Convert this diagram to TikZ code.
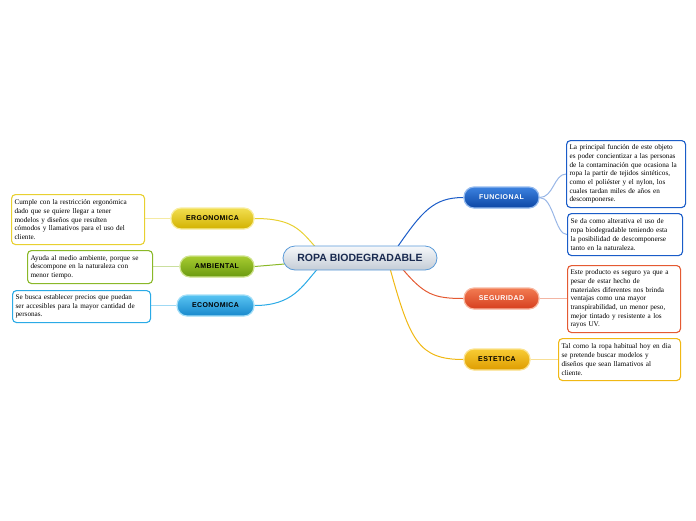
\documentclass[tikz,border=0pt]{standalone}
\usepackage{fontspec}
\setmainfont{Liberation Serif}
\newfontfamily\lblfont[LetterSpace=6]{Liberation Sans}
\newfontfamily\ctrfont{Liberation Sans}
\usetikzlibrary{backgrounds,calc}
\definecolor{ergoA}{HTML}{F2DE50}\definecolor{ergoB}{HTML}{D2B200}\definecolor{ergoL}{HTML}{E8D030}
\definecolor{ambA}{HTML}{A8CC30}\definecolor{ambB}{HTML}{6A9A10}\definecolor{ambL}{HTML}{8AB828}
\definecolor{ecoA}{HTML}{58C4F2}\definecolor{ecoB}{HTML}{1888CC}\definecolor{ecoL}{HTML}{2AAAE6}
\definecolor{funA}{HTML}{3C82E0}\definecolor{funB}{HTML}{0C46A4}\definecolor{funL}{HTML}{1A5CC8}
\definecolor{segA}{HTML}{F27C52}\definecolor{segB}{HTML}{D63E1E}\definecolor{segL}{HTML}{E45A32}
\definecolor{estA}{HTML}{F8CC34}\definecolor{estB}{HTML}{DE9C00}\definecolor{estL}{HTML}{F0B814}
\definecolor{ctrA}{HTML}{F6F8FA}\definecolor{ctrB}{HTML}{C4CCD6}\definecolor{ctrL}{HTML}{5A9AD8}
\definecolor{ctrT}{HTML}{1A2A50}
\tikzset{
  branch/.style 2 args={rounded corners=10pt, minimum height=21pt, inner sep=0pt,
    top color=#1, bottom color=#2, draw=#1!55!white, line width=1.2pt,
    font=\lblfont\bfseries\fontsize{7}{8}\selectfont},
  tbox/.style={draw=#1, line width=1.1pt, rounded corners=4pt, fill=white, align=left,
    inner sep=3pt, anchor=north west, font=\fontsize{7.2}{8.7}\selectfont},
  conn/.style={draw=#1, line width=1pt},
  lconn/.style={draw=#1!45!white, line width=1pt}
}
\begin{document}
\begin{tikzpicture}[x=1pt,y=-1pt]
\useasboundingbox (0,0) rectangle (696,520);

% center
\node[rounded corners=12pt, minimum width=154pt, minimum height=24pt, inner sep=0pt,
  top color=ctrA, bottom color=ctrB, draw=ctrL, line width=0.8pt,
  font=\ctrfont\bfseries\fontsize{10.5}{11}\selectfont, text=ctrT] (c) at (360,258) {ROPA BIODEGRADABLE};

% branches
\node[branch={ergoA}{ergoB}, minimum width=83pt, text=black] (ergo) at (212.5,218.5) {ERGONOMICA};
\node[branch={ambA}{ambB}, minimum width=74pt, text=black] (amb) at (217,266.5) {AMBIENTAL};
\node[branch={ecoA}{ecoB}, minimum width=77pt, text=black] (eco) at (215.5,305.5) {ECONOMICA};
\node[branch={funA}{funB}, minimum width=75pt, text=white] (fun) at (501.5,197.5) {FUNCIONAL};
\node[branch={segA}{segB}, minimum width=75pt, text=white] (seg) at (501.5,298.5) {SEGURIDAD};
\node[branch={estA}{estB}, minimum width=66pt, text=black] (est) at (497,359.5) {ESTETICA};

% text boxes
\node[tbox=ergoL, text width=127pt, minimum height=50pt] (ergoT) at (11,194)
 {Cumple con la restricción ergonómica\\dado que se quiere llegar a tener\\modelos y diseños que resulten\\cómodos y llamativos para el uso del\\cliente.};
\node[tbox=ambL, text width=119pt, minimum height=33pt] (ambT) at (27,250)
 {Ayuda al medio ambiente, porque se\\descompone en la naturaleza con\\menor tiempo.};
\node[tbox=ecoL, text width=132pt, minimum height=32pt] (ecoT) at (12,290)
 {Se busca establecer precios que puedan\\ser accesibles para la mayor cantidad de\\personas.};
\node[tbox=funL, text width=113pt, minimum height=67pt] (funT1) at (566,140)
 {La principal función de este objeto\\es poder concientizar a las personas\\de la contaminación que ocasiona la\\ropa la partir de tejidos sintéticos,\\como el poliéster y el nylon, los\\cuales tardan miles de años en\\descomponerse.};
\node[tbox=funL, text width=109pt, minimum height=42pt] (funT2) at (567,213)
 {Se da como alterativa el uso de\\ropa biodegradable teniendo esta\\la posibilidad de descomponerse\\tanto en la naturaleza.};
\node[tbox=segL, text width=107pt, minimum height=67pt] (segT) at (567,265)
 {Este producto es seguro ya que a\\pesar de estar hecho de\\materiales diferentes nos brinda\\ventajas como una mayor\\transpirabilidad, un menor peso,\\mejor tintado y resistente a los\\rayos UV.};
\node[tbox=estL, text width=116pt, minimum height=42pt] (estT) at (558,338)
 {Tal como la ropa habitual hoy en dia\\se pretende buscar modelos y\\diseños que sean llamativos al\\cliente.};

\begin{pgfonlayer}{background}
% center to branches
\draw[conn=ergoL] (ergo.east) .. controls ($(ergo.east)+(38,0)$) and ($(c.north)+(-60,-16)$) .. ($(c.north)+(-44,2)$);
\draw[conn=ambL] (amb.east) -- ($(c.west)+(2,6)$);
\draw[conn=ecoL] (eco.east) .. controls ($(eco.east)+(38,0)$) and ($(c.south)+(-58,16)$) .. ($(c.south)+(-42,-2)$);
\draw[conn=funL] ($(c.north)+(37,2)$) .. controls ($(c.north)+(62,-34)$) and ($(fun.west)+(-30,0)$) .. (fun.west);
\draw[conn=segL] ($(c.south)+(42,-2)$) .. controls ($(c.south)+(64,24)$) and ($(seg.west)+(-30,0)$) .. (seg.west);
\draw[conn=estL] ($(c.south)+(30,-2)$) .. controls ($(c.south)+(50,70)$) and ($(est.west)+(-45,0)$) .. (est.west);
% branches to texts
\draw[lconn=ergoL] (ergo.west) -- (ergo.west -| ergoT.east);
\draw[lconn=ambL] (amb.west) -- (amb.west -| ambT.east);
\draw[lconn=ecoL] (eco.west) -- (eco.west -| ecoT.east);
\draw[lconn=funL] (fun.east) .. controls ($(fun.east)+(14,0)$) and ($(funT1.west)+(-12,0)$) .. (funT1.west);
\draw[lconn=funL] (fun.east) .. controls ($(fun.east)+(14,0)$) and ($(funT2.west)+(-12,0)$) .. (funT2.west);
\draw[lconn=segL] (seg.east) -- (seg.east -| segT.west);
\draw[lconn=estL] (est.east) -- (est.east -| estT.west);
\end{pgfonlayer}
\end{tikzpicture}
\end{document}
